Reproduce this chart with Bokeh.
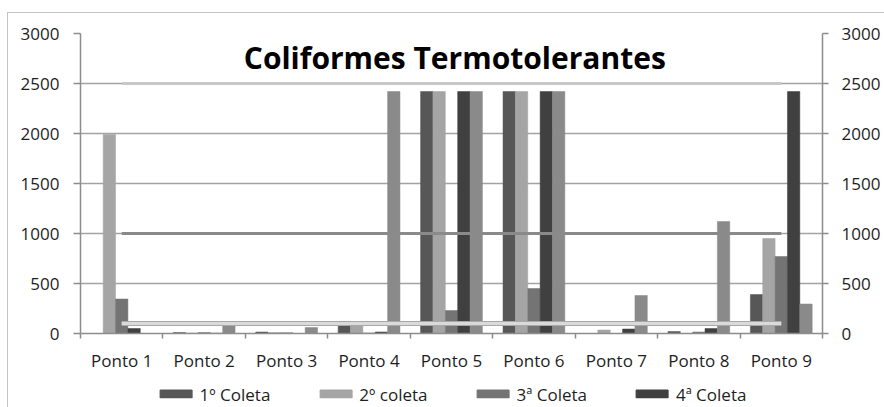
import numpy as np
from bokeh.plotting import figure
from bokeh.layouts import column
from bokeh.models import (ColumnDataSource, Range1d, LinearAxis, FixedTicker,
                          Legend, LegendItem, Label)
from bokeh.transform import dodge
from bokeh.embed import file_html
from bokeh.resources import INLINE

# ---------------- data ----------------
categories = ["Ponto 1", "Ponto 2", "Ponto 3", "Ponto 4", "Ponto 5",
              "Ponto 6", "Ponto 7", "Ponto 8", "Ponto 9"]
coleta1 = [0, 10, 15, 85, 2420, 2420, 0, 20, 390]
coleta2 = [1990, 3, 10, 80, 2420, 2420, 35, 0, 950]
coleta3 = [345, 10, 8, 5, 230, 450, 0, 15, 770]
coleta4 = [50, 3, 0, 15, 2420, 2420, 45, 50, 2420]
coleta5 = [0, 85, 60, 2420, 2420, 2420, 380, 1120, 295]
series_names = ["1º Coleta", "2º coleta", "3ª Coleta", "4ª Coleta"]
ref_2500 = [2500, 2500, 2500, 2500, 2500, 2500, 2500, 2500, 2500]
ref_1000 = [1000, 1000, 1000, 1000, 1000, 1000, 1000, 1000, 1000]
ref_100 = [100, 100, 100, 100, 100, 100, 100, 100, 100]
y_ticks = [0, 500, 1000, 1500, 2000, 2500, 3000]
title_text = "Coliformes Termotolerantes"

x_pos = list(range(1, len(categories) + 1))
src = ColumnDataSource(dict(x=x_pos, c1=coleta1, c2=coleta2, c3=coleta3,
                            c4=coleta4, c5=coleta5,
                            r2500=ref_2500, r1000=ref_1000, r100=ref_100))

FONT = "Open Sans"
W = 876

p = figure(width=W, height=367, output_backend="svg", toolbar_location=None,
           x_range=Range1d(0.5, len(categories) + 0.5),
           y_range=Range1d(0, 3000),
           min_border_left=72, min_border_right=62,
           min_border_top=20, min_border_bottom=47,
           background_fill_color="white", border_fill_color="white")
p.outline_line_color = None
p.xgrid.grid_line_color = None
p.ygrid.ticker = FixedTicker(ticks=y_ticks)
p.ygrid.grid_line_color = "#a3a3a3"
p.ygrid.grid_line_width = 1.5

# x axis: labels at centres, ticks at boundaries
xa = p.xaxis[0]
xa.ticker = FixedTicker(ticks=x_pos, minor_ticks=[v - 0.5 for v in x_pos] + [x_pos[-1] + 0.5])
xa.major_label_overrides = {i: c for i, c in zip(x_pos, categories)}
xa.major_tick_out = 0
xa.major_tick_in = 0
xa.minor_tick_out = 5
xa.minor_tick_in = 0
xa.minor_tick_line_color = "#8c8c8c"
xa.minor_tick_line_width = 1.5
xa.axis_line_color = "#8c8c8c"
xa.axis_line_width = 1.5
xa.major_label_standoff = 10
xa.major_label_text_font = FONT
xa.major_label_text_font_size = "17px"
xa.major_label_text_color = "#1e1e1e"

ya = p.yaxis[0]
ya.ticker = FixedTicker(ticks=y_ticks)
ya.major_tick_out = 7
ya.major_tick_in = 0
ya.minor_tick_out = 0
ya.minor_tick_in = 0
ya.major_tick_line_color = "#8c8c8c"
ya.major_tick_line_width = 1.5
ya.axis_line_color = "#8c8c8c"
ya.axis_line_width = 1.5
ya.major_label_standoff = 14
ya.major_label_text_font = FONT
ya.major_label_text_font_size = "17px"
ya.major_label_text_color = "#1e1e1e"

ra = LinearAxis(ticker=FixedTicker(ticks=y_ticks))
ra.major_tick_out = 6
ra.major_tick_in = 0
ra.minor_tick_out = 0
ra.minor_tick_in = 0
ra.major_tick_line_color = "#8c8c8c"
ra.major_tick_line_width = 1.5
ra.axis_line_color = "#8c8c8c"
ra.axis_line_width = 1.5
ra.major_label_standoff = 13
ra.major_label_text_font = FONT
ra.major_label_text_font_size = "17px"
ra.major_label_text_color = "#1e1e1e"
p.add_layout(ra, "right")

# bars
bw = 0.15
offsets = [-0.3, -0.15, 0.0, 0.15, 0.3]
cols = ["c1", "c2", "c3", "c4", "c5"]
colors = ["#575757", "#a5a5a5", "#747474", "#404040", "#8a8a8a"]
renderers = []
for col, off, colr in zip(cols, offsets, colors):
    r = p.vbar(x=dodge("x", off, range=p.x_range), top=col, width=bw, source=src,
               fill_color=colr, line_color=colr, line_width=0.5)
    renderers.append(r)

# reference lines
p.line("x", "r2500", source=src, line_color="#c8c8c8", line_width=3)
p.line("x", "r1000", source=src, line_color="#8a8a8a", line_width=3)
p.line("x", "r100", source=src, line_color="#a8a8a8", line_width=5)
p.line("x", "r100", source=src, line_color="#dadada", line_width=3)

# title inside the plot area
p.add_layout(Label(x=(p.x_range.start + p.x_range.end) / 2 + 0.04, y=2760,
                   text=title_text, text_align="center", text_baseline="middle",
                   text_font=FONT, text_font_size="30px", text_font_style="bold",
                   text_color="black"))

# legend strip (separate figure so that the legend is not clipped)
pl = figure(width=W, height=27, output_backend="svg", toolbar_location=None,
            x_range=Range1d(0, 1), y_range=Range1d(0, 1), min_border=0,
            min_border_left=16,
            x_axis_location=None, y_axis_location=None,
            background_fill_color="white", border_fill_color="white")
pl.grid.grid_line_color = None
pl.outline_line_color = None
proxy_src = ColumnDataSource(dict(x=[-1], top=[0]))
proxies = []
for colr in colors[:4]:
    proxies.append(pl.vbar(x="x", top="top", width=0.1, source=proxy_src,
                           fill_color=colr, line_color=colr))

legend = Legend(items=[LegendItem(label=n, renderers=[r]) for n, r in zip(series_names, proxies)],
                orientation="horizontal", location="center",
                glyph_width=40, glyph_height=10, label_standoff=4, spacing=45,
                padding=0, margin=0, label_text_font=FONT, label_text_font_size="17px",
                label_text_color="#1e1e1e",
                background_fill_alpha=0, border_line_alpha=0)
pl.add_layout(legend)

layout = column(p, pl)
layout.styles = {"border-left": "1px solid #c4c4c4", "border-top": "1px solid #c4c4c4",
                 "margin-left": "7px", "margin-top": "12px"}

open("out.html", "w").write(file_html(layout, INLINE))
